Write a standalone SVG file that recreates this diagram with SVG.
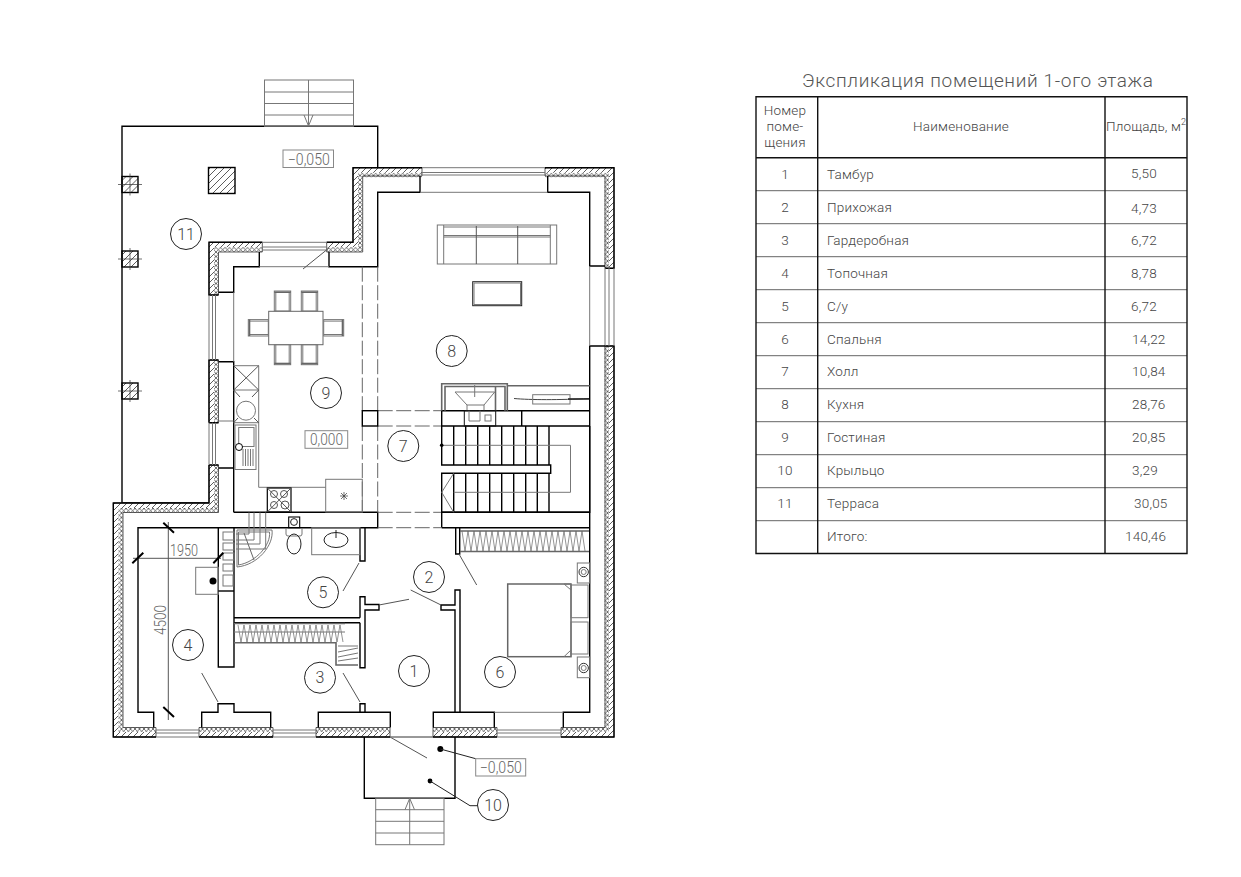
<svg xmlns="http://www.w3.org/2000/svg" width="1241" height="877" viewBox="0 0 1241 877" fill="none">
<style>
text{font-family:"Roboto","Liberation Sans",sans-serif;font-weight:300;fill:#444}
.m{text-anchor:middle}
.t{font-size:13.5px;letter-spacing:.2px}
.e{font-size:16px}
.l{fill:#666}
.b{stroke:#000;stroke-width:1.4}
.w{stroke:#333;stroke-width:.8}
.k{stroke:#444;stroke-width:1}
.g{stroke:#777;stroke-width:1}
.g2{stroke:#666;stroke-width:1.6}
.th{stroke:#333;stroke-width:.7}
.hb{stroke:url(#hatch);stroke-width:5}
.ib{stroke:url(#ins);stroke-width:4.5}
.c{stroke:#222;stroke-width:1;fill:#fff}
.box{stroke:#888;stroke-width:1;fill:#fff}
.tb{stroke:#111;stroke-width:1.4}
.tl{stroke:#666;stroke-width:1}
</style>
<defs>
<pattern id="hatch" width="6" height="6" patternUnits="userSpaceOnUse"><rect width="6" height="6" fill="#fff"/><path d="M-1 7L7 -1M-1 1L1 -1M5 7L7 5" stroke="#333" stroke-width=".8"/></pattern>
<pattern id="ins" width="4.5" height="4.5" patternUnits="userSpaceOnUse"><rect width="4.5" height="4.5" fill="#fff"/><path d="M0 0L4.5 4.5M4.5 0L0 4.5" stroke="#333" stroke-width=".7"/></pattern>
<pattern id="col" width="7" height="7" patternUnits="userSpaceOnUse"><path d="M-1 8L8 -1M-1 1L1 -1M6 8L8 6" stroke="#333" stroke-width=".8"/></pattern>
<g id="chair"><rect x="0" y="0" width="16.4" height="20" class="g"/><line x1="1.5" y1="1.5" x2="1.5" y2="20" class="g"/><line x1="14.9" y1="1.5" x2="14.9" y2="20" class="g"/><line x1="0" y1="1.2" x2="16.4" y2="1.2" class="g2"/></g>
<g id="col1"><rect x="122" width="16" height="16" fill="url(#col)" class="b"/><path d="M118 8H142M130 -3V19" class="th"/></g>
</defs>

<g id="terrace">
<path d="M209 503H122V126.3H377.7V168" class="b"/>
<g class="g"><rect x="264.5" y="80" width="89" height="46.3"/><path d="M264.5 92H353.5M264.5 103.5H353.5M264.5 115H353.5M308.5 80V126M304 115L308.5 126L313 115"/></g>
<rect x="208.5" y="167.5" width="26.5" height="26" fill="url(#col)" class="b"/>
<use href="#col1" y="176.5"/><use href="#col1" y="251"/><use href="#col1" y="383"/>
</g>

<g id="walls">
<g class="ib">
<polyline points="545,174.9 606.75,174.9 606.75,268"/>
<polyline points="422,174.9 360.25,174.9 360.25,249.5 326.7,249.5"/>
<polyline points="262.3,249.5 216.25,249.5 216.25,295"/>
<polyline points="216.25,360 216.25,422.7"/>
<polyline points="216.25,465 216.25,510.25 120.55,510.25 120.55,729.75 156,729.75"/>
<polyline points="199,729.75 273,729.75"/>
<polyline points="316,729.75 390,729.75"/>
<polyline points="433,729.75 497,729.75"/>
<polyline points="561,729.75 606.75,729.75 606.75,346"/>
</g>
<g class="hb">
<polyline points="545,170.2 611.5,170.2 611.5,268"/>
<polyline points="422,170.2 355.5,170.2 355.5,244.8 326.7,244.8"/>
<polyline points="262.3,244.8 211.5,244.8 211.5,295"/>
<polyline points="211.5,360 211.5,422.7"/>
<polyline points="211.5,465 211.5,505.5 115.8,505.5 115.8,734.5 156,734.5"/>
<polyline points="199,734.5 273,734.5"/>
<polyline points="316,734.5 390,734.5"/>
<polyline points="433,734.5 497,734.5"/>
<polyline points="561,734.5 611.5,734.5 611.5,346"/>
</g>
<path d="M545 167.7H614V268.3H605V176H545ZM422 167.7H353V242.3H326.7V252H362.7V176H422ZM262.3 242.3H209V295H218.5V252H262.3ZM209 360H218.5V422.7H209ZM209 465V503H113.3V737H156V727.5H123V512.5H218.5V465ZM199 727.5H273V737H199ZM316 727.5H390V737H316ZM433 727.5H497V737H433ZM561 727.5H605V346H614V737H561Z" class="w"/>
<path d="M545 167.7H614V268.3H605M422 167.7H353V242.3H326.7M262.3 242.3H209V295H218.5M209 422.7H218.5M218.5 360H209V422.7M209 465V503H113.3V737H156M199 737H273M316 737H390M433 737H497M561 737H614V346H605M218.5 465H209" class="b"/>
<g class="g">
<path d="M422 167.7H545M422 172.5H545M422 175H545M262 242.3H327M262 247H327M262 250H327M209 295V360M212.5 295V360M215.5 295V360M209 422.7V465M212.5 422.7V465M215.5 422.7V465M605 268V346M609 268V346M614 268V346M156 737H199M156 733H199M156 730H199M273 737H316M273 733H316M273 730H316M390 737H433M497 737H561M497 733H561M497 730H561"/>
</g>
</g>

<g id="interior">
<path d="M218.5 292.3H233.7V266.7H259.3V252M329 252V266.7H377.7V192.3H420V176M547.7 176V192.3H589.7V266H605M605 346H589.7V712.3H563.3V727.5M218.5 361.7H233.7V512.3M218.5 468H233.7M233.7 512.3H377.7V527.7H138V712.3H153.7V727.5M201.7 727.5V712.3H218V703.7H234V712.3H270.7V727.5M318.3 727.5V712.3H390.3V727.5M433.3 727.5V712.3H494.3V727.5M218.3 527.7V667H234V527.7M234 617.7H360M234 622.7H360M360 527.7V561H365V527.7M360 617.7V596.7H365V604.5H379V610H365V667.7H360V622.7M360 712.3V703.7H365V712.3M441 605H455V590H460V712.3H455V610H441ZM441.7 512.3H589.7M441.7 527.7H589.7M441.7 512.3V527.7M455.7 527.7V554H459.7V527.7" class="b"/>
<path d="M259.3 266.7H329M420 192.3H547.7M589.7 266V346M233.7 292.3V361.7M233.7 421H218.5M494.3 712.3H563.3" class="g"/>
<path d="M362.3 266.7V410.7M377.7 266.7V410.7M362.3 426V512.3M377.7 426V512.3M377.7 410.7H441.7M377.7 426H441.7M377.7 512.3H441.7M377.7 527.7H441.7" stroke="#666" stroke-dasharray="15 3.5"/>
<rect x="362.3" y="410.7" width="15.4" height="15.3" class="b"/>
<path d="M359 563L343 591M343 673L360 702M201.7 673L218 702M379 605L409 599.3M441 605L410.7 590M459 554L476.7 585M390 737L427 758M329 248L303 269" stroke="#555"/>
</g>

<g id="stairs">
<path d="M441.7 410.7H521.7V426H441.7ZM521.7 410.7H589.7M521.7 426H589.7" class="b"/>
<path d="M441.7 426V465H549V426M441.7 465H550.7V473.3H441.7V512.3H589.7V426M549 473.3V512.3M453.7 426V465M465.7 426V465M477.7 426V465M489.7 426V465M501.7 426V465M513.7 426V465M525.7 426V465M537.3 426V465M453.7 473.3V512.3M465.7 473.3V512.3M477.7 473.3V512.3M489.7 473.3V512.3M501.7 473.3V512.3M513.7 473.3V512.3M525.7 473.3V512.3M537.3 473.3V512.3" class="b"/>
<path d="M441.7 445.3H570.5V492.3H453.7M453.7 473.3L441.7 492.3L453.7 512.3" class="g"/>
<circle cx="441.7" cy="445.3" r="1.8" fill="#000"/>
</g>

<g id="fireplace">
<path d="M441.7 410.7V383.7H507.3V410.7M445 410.7V386.5H505V410.7M495.5 386.5V410.7M507.3 385.7H589.7" class="g2"/>
<path d="M455 392H494.7L484 405H467ZM467 405V410.7M484 405V410.7M474.7 385V397" class="g"/>
<rect x="464.3" y="410.7" width="31.4" height="15.3" stroke="#111"/>
<path d="M469 410.7V421H480V410.7" class="g"/>
<rect x="485" y="415" width="6" height="6" class="g"/>
<path d="M514 398.5C530 400 560 400 589 398.5" class="k"/>
<rect x="532.7" y="394.7" width="37.3" height="9.3" class="g"/>
<line x1="568" y1="399" x2="589" y2="399" stroke="#222" stroke-width="1.5"/>
</g>

<g id="sofa">
<rect x="437.3" y="225" width="119.4" height="39" class="g"/>
<path d="M443.7 225V264M550.3 225V264M443.7 227H550.3M443.7 235.5H550.3M443.7 237H550.3" class="g"/>
<path d="M476.3 226V264M517.7 226V264" stroke="#555"/>
<rect x="472.7" y="281.7" width="49" height="24" stroke="#222"/>
<rect x="474" y="283" width="46.5" height="21.5" class="g"/>
</g>

<g id="dining">
<rect x="268.7" y="311.3" width="54.3" height="33.4" stroke="#666"/>
<use href="#chair" x="274.3" y="291"/><use href="#chair" x="301.3" y="291"/>
<use href="#chair" transform="translate(290.7 364.7) rotate(180)"/><use href="#chair" transform="translate(317.7 364.7) rotate(180)"/>
<use href="#chair" transform="translate(248.3 336) rotate(-90)"/><use href="#chair" transform="translate(343.7 319.6) rotate(90)"/>
</g>

<g id="kitchen">
<path d="M258.7 365.7V487.3H325.7M233.7 365.7H258.7M233.7 390H258.7M233.7 422.7H258.7" class="g"/>
<path d="M233.7 365.7L258.7 390M258.7 365.7L233.7 390M233.7 390L240 397M258.7 390L252 397M233.7 422.7L238 418M258.7 422.7L254 418" stroke="#555"/>
<circle cx="246" cy="410.7" r="9.5" class="g"/>
<rect x="235" y="425" width="21" height="44.5" class="g"/>
<rect x="238.7" y="427.5" width="15.3" height="19" class="g"/>
<path d="M243 449V466M245.5 449V466M248 449V466M250.5 449V466M253 449V466" class="g"/>
<circle cx="239" cy="447" r="3.5" stroke="#000" fill="#fff"/>
<rect x="325.7" y="479.3" width="36.6" height="32.7" class="g"/>
<path d="M340 496H348M344 492V500M341 493L347 499M347 493L341 499" class="th"/>
<rect x="267.3" y="488" width="23.7" height="24" stroke="#000" stroke-width="1.2"/>
<g stroke="#555"><circle cx="274" cy="494" r="3.5"/><circle cx="284" cy="494" r="3.5"/><circle cx="274" cy="505" r="3.5"/><circle cx="285" cy="505" r="4"/><path d="M267.3 512L291 488M267.3 488L291 512"/></g>
</g>

<g id="bath">
<path d="M237 530H272C274 545 258 565 237 567Z M238.5 532H269.5C271 545 256 562 238.5 565Z" class="g"/>
<path d="M249 512.5V534H236M254 512.5V540H236M260 512.5V544H236M265.7 512.5V549H236" class="g"/>
<path d="M244 533L254 560" stroke="#666"/>
<g class="g"><rect x="223" y="532" width="11" height="8"/><rect x="223" y="543" width="11" height="7"/><rect x="223" y="553" width="11" height="7"/><rect x="223" y="564" width="10" height="7"/><rect x="223" y="575" width="10" height="11"/><rect x="195.7" y="567.3" width="22.6" height="27"/></g>
<line x1="218.3" y1="591" x2="234" y2="591" class="b"/>
<circle cx="213" cy="581" r="3.5" fill="#000"/>
<rect x="288.7" y="517" width="11" height="10.7" stroke="#000" stroke-width="1.1"/>
<circle cx="294" cy="522" r="3.4" stroke="#222"/>
<path d="M286 528V534Q286 536 288 536H300Q302 536 302 534V528" class="g"/>
<ellipse cx="294" cy="544" rx="7" ry="10" stroke="#222"/>
<rect x="311.7" y="527.7" width="48.3" height="27" class="g"/>
<ellipse cx="336" cy="540" rx="12" ry="7.5" stroke="#222"/>
<path d="M336 530V538" stroke="#222"/>
</g>

<g id="closets">
<path d="M460 531H589M460 551.5H589" class="g2"/>
<path d="M462 531L465 551L468 531L471 551L474 531L477 551L480 531L483 551L486 531L489 551L492 531L495 551L498 531L501 551L504 531L507 551L510 531L513 551L516 531L519 551L522 531L525 551L528 531L531 551L534 531L537 551L540 531L543 551L546 531L549 551L552 531L555 551L558 531L561 551L564 531L567 551L570 531L573 551L576 531L579 551L582 531L585 551" stroke="#666" stroke-width=".7"/>
<path d="M234 623.5H345M234 642.7H336V665H358" class="g2"/>
<path d="M238 625L241 642L244 625L247 642L250 625L253 642L256 625L259 642L262 625L265 642L268 625L271 642L274 625L277 642L280 625L283 642L286 625L289 642L292 625L295 642L298 625L301 642L304 625L307 642L310 625L313 642L316 625L319 642L322 625L325 642L328 625L331 642L334 625L337 642L340 625L343 642" stroke="#666" stroke-width=".7"/>
<path d="M234 632H345M338 646H358M338 652L358 648M338 657L358 653M338 661L358 658" class="g"/>
</g>

<g id="bed">
<rect x="507.7" y="584" width="63.3" height="72.7" stroke="#666" stroke-width="1.5"/>
<rect x="571" y="585" width="17" height="32.7" class="g"/><rect x="571" y="622" width="17" height="32" class="g"/>
<path d="M564 584L571 590V584ZM564 656.7L571 650V656.7" class="g"/>
<rect x="577.3" y="563" width="12.4" height="20" class="g"/><rect x="577.3" y="657" width="12.4" height="20.7" class="g"/>
<circle cx="583.7" cy="572" r="4.7" stroke="#333"/><circle cx="583.7" cy="572" r="2.5" class="g"/>
<circle cx="583.7" cy="668" r="4.7" stroke="#333"/><circle cx="583.7" cy="668" r="2.5" class="g"/>
</g>

<g id="porch">
<path d="M364.3 737V798.3H455V737" class="b"/>
<path d="M390 737H433" class="g"/>
<g class="g"><rect x="375.7" y="798.3" width="68.3" height="46.4"/><path d="M375.7 809.7H444M375.7 821.3H444M375.7 833H444M409.7 798.3V844.7M405 809.7L409.7 798.3L414.5 809.7"/></g>
<circle cx="440.3" cy="749" r="3" fill="#000"/><circle cx="430" cy="781" r="2.4" fill="#000"/>
<path d="M440.3 749L475.7 758.7M430 781L470 805.7H478" stroke="#222"/>
</g>

<g id="dimensions">
<path d="M133 558.3H221M168.3 522V720" stroke="#555"/>
<path d="M132.3 563.3L143.3 552.7M213.3 563.3L223.3 552.7M163.3 522.7L174 532.7M163.3 707L174 717" stroke="#000" stroke-width="2"/>
<text x="184" y="555.7" class="e m l" textLength="28" lengthAdjust="spacingAndGlyphs">1950</text>
<text transform="translate(166 620) rotate(-90)" class="e m l" textLength="30" lengthAdjust="spacingAndGlyphs">4500</text>
</g>

<g id="levels">
<rect x="283" y="150" width="50.5" height="17.5" class="box"/><text x="308.8" y="164.5" class="e m l" textLength="42" lengthAdjust="spacingAndGlyphs">−0,050</text>
<rect x="305" y="430.7" width="42.7" height="17.6" class="box"/><text x="326.5" y="445" class="e m l" textLength="33" lengthAdjust="spacingAndGlyphs">0,000</text>
<rect x="475.7" y="758.7" width="50" height="17.3" class="box"/><text x="500.8" y="773" class="e m l" textLength="42" lengthAdjust="spacingAndGlyphs">−0,050</text>
</g>

<g id="room-marks">
<g id="room-1"><circle cx="414" cy="671" r="15.5" class="c"/><text x="414" y="676.5" class="e m">1</text></g>
<g id="room-2"><circle cx="429" cy="577" r="15.5" class="c"/><text x="429" y="582.5" class="e m">2</text></g>
<g id="room-3"><circle cx="320" cy="677.7" r="15.5" class="c"/><text x="320" y="683.3" class="e m">3</text></g>
<g id="room-4"><circle cx="188" cy="645" r="15.5" class="c"/><text x="188" y="650.5" class="e m">4</text></g>
<g id="room-5"><circle cx="323" cy="592.3" r="15.5" class="c"/><text x="323" y="598" class="e m">5</text></g>
<g id="room-6"><circle cx="500" cy="672" r="15.5" class="c"/><text x="500" y="677.5" class="e m">6</text></g>
<g id="room-7"><circle cx="403.3" cy="446" r="15.5" class="c"/><text x="403.3" y="451.5" class="e m">7</text></g>
<g id="room-8"><circle cx="451.7" cy="351" r="15.5" class="c"/><text x="451.7" y="356.5" class="e m">8</text></g>
<g id="room-9"><circle cx="326" cy="393" r="15.5" class="c"/><text x="326" y="398.5" class="e m">9</text></g>
<g id="room-10"><circle cx="493" cy="805" r="15.5" class="c"/><text x="493" y="810.5" class="e m">10</text></g>
<g id="room-11"><circle cx="186" cy="234" r="15.5" class="c"/><text x="186" y="239.5" class="e m">11</text></g>
</g>

<g id="table">
<text x="802" y="87" style="font-size:19px;fill:#555" textLength="351" lengthAdjust="spacing">Экспликация помещений 1-ого этажа</text>
<path d="M756 190.7H1187M756 223.7H1187M756 256.7H1187M756 289.7H1187M756 322.7H1187M756 355.7H1187M756 388.7H1187M756 421.7H1187M756 454.7H1187M756 487.7H1187M756 520.7H1187" class="tl"/>
<path d="M756 96.7H1187V553.5H756ZM817.7 96.7V553.5M1105 96.7V553.5M756 157.7H1187" class="tb"/>
<g class="t m">
<text x="785" y="115">Номер</text><text x="785" y="131">поме-</text><text x="785" y="147">щения</text>
<text x="961" y="131">Наименование</text>
</g>
<text x="1106" y="131" class="t" textLength="75" lengthAdjust="spacing">Площадь, м</text><text x="1181" y="125" style="font-size:9px">2</text>
<g class="t m"><text x="785" y="179">1</text><text x="785" y="212">2</text><text x="785" y="245">3</text><text x="785" y="278">4</text><text x="785" y="311">5</text><text x="785" y="344">6</text><text x="785" y="376">7</text><text x="785" y="409">8</text><text x="785" y="442">9</text><text x="785" y="475">10</text><text x="785" y="508">11</text></g>
<g class="t"><text x="827" y="179">Тамбур</text><text x="827" y="212">Прихожая</text><text x="827" y="245">Гардеробная</text><text x="827" y="278">Топочная</text><text x="827" y="311">С/у</text><text x="827" y="344">Спальня</text><text x="827" y="376">Холл</text><text x="827" y="409">Кухня</text><text x="827" y="442">Гостиная</text><text x="827" y="475">Крыльцо</text><text x="827" y="508">Терраса</text><text x="827" y="541">Итого:</text></g>
<g class="t"><text x="1131" y="178">5,50</text><text x="1131" y="213">4,73</text><text x="1131" y="245">6,72</text><text x="1131" y="278">8,78</text><text x="1131" y="311">6,72</text><text x="1132" y="344">14,22</text><text x="1132" y="376">10,84</text><text x="1132" y="409">28,76</text><text x="1132" y="442">20,85</text><text x="1132" y="475">3,29</text><text x="1134" y="508">30,05</text><text x="1125" y="541">140,46</text></g>
</g>
</svg>
